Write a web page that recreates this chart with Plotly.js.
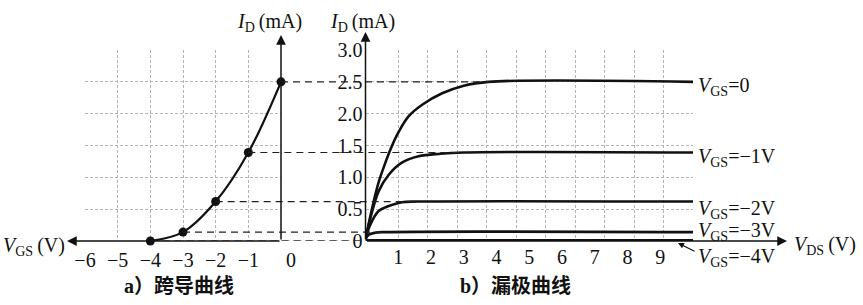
<!DOCTYPE html>
<html>
<head>
<meta charset="utf-8">
<script src="https://cdn.plot.ly/plotly-3.0.1.min.js"></script>
<style>html,body{margin:0;padding:0;background:#fff;}#chart{width:863px;height:305px;}</style>
</head>
<body>
<div id="chart"></div>
<script>
// ---- data ----
// a) transfer curve
var vgsPoints = [-4, -3, -2, -1, 0];
var idPoints  = [0, 0.14, 0.62, 1.39, 2.5];
var vgsTicks  = [-6, -5, -4, -3, -2, -1, 0];
var vgsTickText = ['\u22126', '\u22125', '\u22124', '\u22123', '\u22122', '\u22121', '\u2007\u20070'];

// b) drain curves
var vds0 = [0, 0.10, 0.25, 0.40, 0.60, 0.78, 1.02, 1.32, 1.73, 2.34, 3.0, 3.76, 10];
var id0  = [0.03, 0.28, 0.62, 0.92, 1.22, 1.46, 1.72, 1.96, 2.14, 2.32, 2.44, 2.5, 2.5];
var vds1 = [0, 0.15, 0.40, 0.71, 1.11, 1.62, 2.28, 3.0, 10];
var id1  = [0.03, 0.36, 0.78, 1.04, 1.23, 1.33, 1.37, 1.39, 1.39];
var vds2 = [0, 0.15, 0.40, 0.71, 1.11, 1.6, 10];
var id2  = [0.03, 0.26, 0.47, 0.55, 0.61, 0.62, 0.62];
var vds3 = [0, 0.10, 0.30, 0.6, 10];
var id3  = [0.03, 0.10, 0.13, 0.14, 0.14];
var vds4 = [0, 10];
var id4  = [0, 0];
var pinchVds = [0, 0.6, 1.6, 3.0, 3.76];   // where each level meets its drain curve (order of vgsPoints)
var vdsTicks = [1, 2, 3, 4, 5, 6, 7, 8, 9];
var idTicks = [0, 0.5, 1.0, 1.5, 2.0, 2.5, 3.0];
var idTickText = ['0', '0.5', '1.0', '1.5', '2.0', '2.5', '3.0'];
var curveLabels = ['=0', '=\u22121V', '=\u22122V', '=\u22123V', '=\u22124V'];

// ---- geometry ----
var W = 863, H = 305, T = 50, B = 64, PH = H - T - B;
var L0 = 85, L1 = 281, R0 = 365.5, R1 = 693;
function px(x) { return x / W; }
function py(y) { return (H - B - y) / PH; }
function leftPx(v) { return L0 + (v + 6) / 6 * (L1 - L0); }
function rightPx(v) { return R0 + v / 10 * (R1 - R0); }

var serif = 'Times New Roman';
var gridCol = '#b4b4b4';

var traces = [];
traces.push({x: vgsPoints, y: idPoints, xaxis: 'x', yaxis: 'y', mode: 'lines+markers',
  line: {color: '#111', width: 2.2, shape: 'spline', smoothing: 1},
  marker: {color: '#111', size: 9}, hoverinfo: 'none', cliponaxis: false});
var curves = [[vds0, id0, 2.6], [vds1, id1, 2.6], [vds2, id2, 2.6], [vds3, id3, 2.6], [vds4, id4, 4]];
curves.forEach(function (c) {
  traces.push({x: c[0], y: c[1], xaxis: 'x2', yaxis: 'y2', mode: 'lines',
    line: {color: '#111', width: c[2], shape: 'spline', smoothing: 1},
    hoverinfo: 'none', cliponaxis: false});
});
// invisible trace to keep the grid overlay axis alive
traces.push({x: [], y: [], xaxis: 'x3', yaxis: 'y2', mode: 'lines', showlegend: false, hoverinfo: 'none'});

var shapes = [];
for (var i = 0; i < vgsPoints.length; i++) {
  shapes.push({type: 'line', xref: 'paper', yref: 'y',
    x0: px(leftPx(vgsPoints[i])), x1: px(rightPx(pinchVds[i])),
    y0: idPoints[i], y1: idPoints[i],
    line: {color: '#222', width: 1.2, dash: '7px,5px'}, layer: 'above'});
}
// connector from left axis for the 0 level
shapes.push({type: 'line', xref: 'paper', yref: 'y', x0: px(L1), x1: px(R0), y0: 0, y1: 0,
  line: {color: '#222', width: 1.2, dash: '7px,5px'}, layer: 'above'});

var ann = [];
function arrow(x, y, xref, yref, ax, ay) {
  ann.push({x: x, y: y, xref: xref, yref: yref, ax: ax, ay: ay, axref: 'pixel', ayref: 'pixel',
    text: '', showarrow: true, arrowhead: 2, arrowsize: 1.3, arrowwidth: 1.5, arrowcolor: '#111',
    standoff: 0, startstandoff: 0});
}
arrow(px(67), 0, 'paper', 'y', L1 - 67, 0);
arrow(0, py(35), 'x', 'paper', 0, 206);
arrow(0, py(32), 'x2', 'paper', 0, 209);
arrow(px(787), 0, 'paper', 'y2', R0 - 787, 0);

function label(text, x, y, size, xanchor, family) {
  ann.push({x: px(x), y: py(y), xref: 'paper', yref: 'paper', text: text, showarrow: false,
    xanchor: xanchor || 'center', yanchor: 'middle',
    font: {family: family || serif, size: size, color: '#111'}});
}
label('<i>I</i><sub>D</sub>\u2009(mA)', 269, 22, 20);
label('<i>I</i><sub>D</sub>\u2009(mA)', 362, 22, 20);
label('<i>V</i><sub>GS</sub>\u2009(V)', 34, 246, 20);
label('<i>V</i><sub>DS</sub>\u2009(V)', 825, 245, 20);
var labelY = [86, 157, 209, 231, 257];
for (var k = 0; k < curveLabels.length; k++) {
  label('<i>V</i><sub>GS</sub>' + curveLabels[k], 696, labelY[k], 20, 'left');
}
ann.push({x: px(678), y: py(243), xref: 'paper', yref: 'paper', ax: 18, ay: 9, text: '',
  showarrow: true, arrowhead: 2, arrowsize: 1, arrowwidth: 1.2, arrowcolor: '#111', standoff: 0});
var cjk = 'Liberation Serif, Noto Sans CJK SC';
label('<b>a\uff09\u8de8\u5bfc\u66f2\u7ebf</b>', 179, 286, 20, 'center', cjk);
label('<b>b\uff09\u6f0f\u6781\u66f2\u7ebf</b>', 515, 286, 20, 'center', cjk);

var gridCommon = {showgrid: true, gridcolor: gridCol, gridwidth: 1, griddash: '3px,2px',
  zeroline: false, showline: false, ticks: ''};

var layout = {
  width: W, height: H, margin: {l: 0, r: 0, t: T, b: B, pad: 0},
  paper_bgcolor: '#fff', plot_bgcolor: 'rgba(0,0,0,0)', showlegend: false,
  font: {family: serif, size: 20, color: '#111'},
  xaxis: Object.assign({}, gridCommon, {domain: [px(L0), px(L1)], range: [-6, 0], anchor: 'y',
    tickmode: 'array', tickvals: vgsTicks, ticktext: vgsTickText, ticklabelstandoff: 5,
    tickfont: {family: serif, size: 20, color: '#111'}}),
  yaxis: Object.assign({}, gridCommon, {domain: [0, 1], range: [0, 3], anchor: 'x',
    tickmode: 'array', tickvals: idTicks, showticklabels: false}),
  xaxis2: Object.assign({}, gridCommon, {domain: [px(R0), px(R1)], range: [0, 10], anchor: 'y2',
    showgrid: false, tickmode: 'array', tickvals: vdsTicks, ticklabelstandoff: 2,
    tickfont: {family: serif, size: 20, color: '#111'}}),
  yaxis2: Object.assign({}, gridCommon, {domain: [0, 1], range: [0, 3], anchor: 'x2',
    tickmode: 'array', tickvals: idTicks, ticktext: idTickText, ticklabelstandoff: 2,
    tickfont: {family: serif, size: 20, color: '#111'}}),
  xaxis3: Object.assign({}, gridCommon, {overlaying: 'x2', anchor: 'y2', range: [-0.11, 11],
    tickmode: 'array', tickvals: [1, 2, 3, 4, 5, 6, 7, 8, 9, 10, 11], showticklabels: false, side: 'top'}),
  shapes: shapes,
  annotations: ann
};

Plotly.newPlot('chart', traces, layout, {staticPlot: true, displayModeBar: false});
</script>
</body>
</html>
